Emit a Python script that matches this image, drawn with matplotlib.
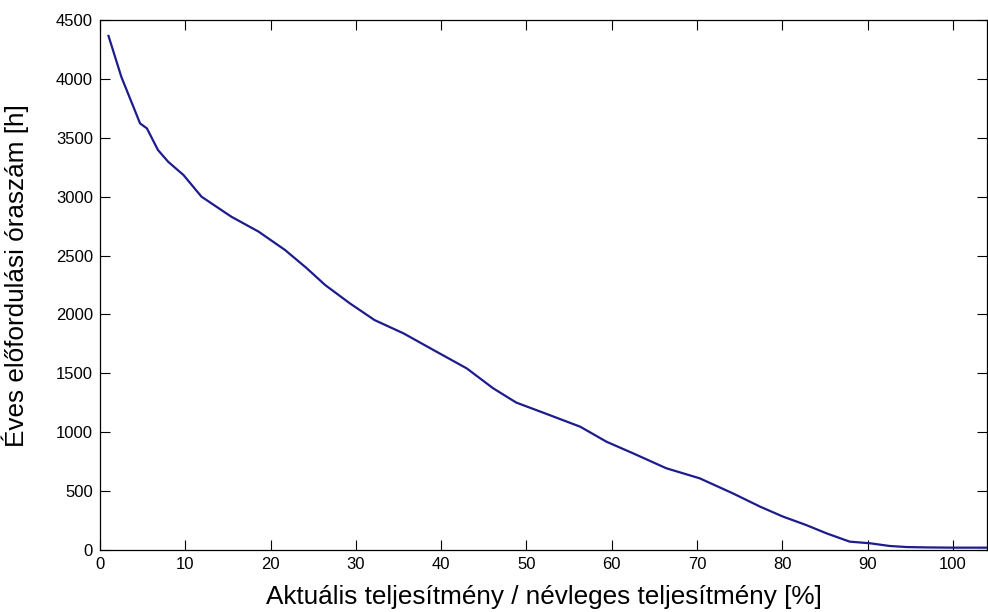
import matplotlib
matplotlib.use('Agg')
import matplotlib.pyplot as plt

plt.rcParams['font.family'] = ['Liberation Sans', 'DejaVu Sans']

# Éves tartamdiagram pontjai (teljesítmény % -> óraszám)
teljesitmeny = [1.0, 2.5, 4.7, 5.5, 6.8, 8.0, 9.8, 11.9, 15.4, 18.6, 21.7,
                24.2, 26.4, 29.3, 32.2, 35.6, 39.1, 43.0, 46.1, 48.8, 52.7,
                56.3, 59.4, 62.5, 66.4, 70.3, 74.2, 77.4, 80.1, 82.8, 85.2,
                87.9, 90.3, 92.6, 94.6, 97.0, 100.0, 104.0]
oraszam = [4365, 4018, 3622, 3580, 3396, 3296, 3183, 3000, 2830, 2703, 2547,
           2395, 2250, 2094, 1952, 1839, 1698, 1542, 1373, 1252, 1146,
           1047, 919, 821, 694, 609, 481, 368, 283, 212, 141,
           71, 57, 34, 25, 22, 20, 20]

x_ticks = [0, 10, 20, 30, 40, 50, 60, 70, 80, 90, 100]
y_ticks = [0, 500, 1000, 1500, 2000, 2500, 3000, 3500, 4000, 4500]

fig = plt.figure(figsize=(9.88, 6.12), dpi=100)
ax = fig.add_axes([0.1012, 0.1013, 0.8978, 0.8660])

ax.plot(teljesitmeny, oraszam, color='#1c1c8c', lw=1.6)

ax.set_xlim(0, 104)
ax.set_ylim(0, 4500)
ax.set_xticks(x_ticks)
ax.set_yticks(y_ticks)
ax.tick_params(direction='in', length=7, width=0.8, labelsize=12,
               top=True, right=True, pad=5, colors='black')
for s in ax.spines.values():
    s.set_linewidth(0.9)

ax.set_xlabel('Aktuális teljesítmény / névleges teljesítmény [%]', fontsize=18.8)
ax.set_ylabel('Éves előfordulási óraszám [h]', fontsize=18.8)
ax.xaxis.set_label_coords(0.5, -0.066)
ax.yaxis.set_label_coords(-0.080, 0.517)

fig.savefig('out.png', dpi=100)
